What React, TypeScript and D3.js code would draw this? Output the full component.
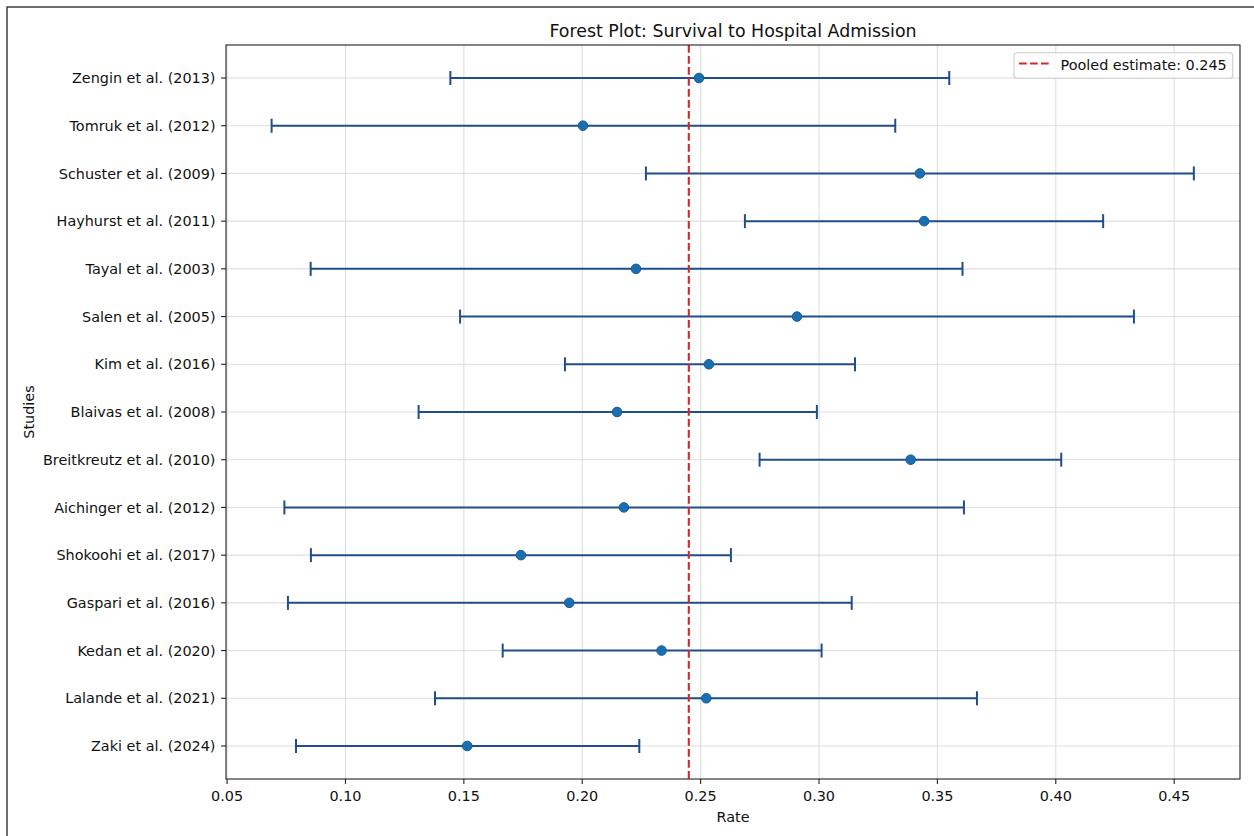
import React, { useEffect, useRef } from "react";
import * as d3 from "d3";

// studies, top to bottom
const studies = [
  "Zengin et al. (2013)",
  "Tomruk et al. (2012)",
  "Schuster et al. (2009)",
  "Hayhurst et al. (2011)",
  "Tayal et al. (2003)",
  "Salen et al. (2005)",
  "Kim et al. (2016)",
  "Blaivas et al. (2008)",
  "Breitkreutz et al. (2010)",
  "Aichinger et al. (2012)",
  "Shokoohi et al. (2017)",
  "Gaspari et al. (2016)",
  "Kedan et al. (2020)",
  "Lalande et al. (2021)",
  "Zaki et al. (2024)",
];

const rates = [0.2493, 0.2003, 0.3426, 0.3444, 0.2227, 0.2907, 0.2535, 0.2147, 0.3387, 0.2176, 0.1741, 0.1945, 0.2335, 0.2524, 0.1514];
const lower = [0.1443, 0.0688, 0.2269, 0.2687, 0.0853, 0.1484, 0.1927, 0.1309, 0.2749, 0.0742, 0.0854, 0.0757, 0.1664, 0.1378, 0.0791];
const upper = [0.355, 0.3322, 0.4583, 0.42, 0.3606, 0.433, 0.3152, 0.2991, 0.4023, 0.3612, 0.2628, 0.3138, 0.3011, 0.3667, 0.2241];

const pooled = 0.245;
const xTicks = [0.05, 0.1, 0.15, 0.2, 0.25, 0.3, 0.35, 0.4, 0.45];

const W = 1254;
const H = 836;
const FONT = "DejaVu Sans, sans-serif";
const FS = 14.4;

export default function App() {
  const ref = useRef<SVGSVGElement>(null);

  useEffect(() => {
    const svg = d3.select(ref.current);
    svg.selectAll("*").remove();

    const left = 226, right = 1240, top = 45, bottom = 779;

    const x = d3.scaleLinear().domain([0.04954, 0.4778]).range([left, right]);
    const y = d3.scalePoint<string>().domain(studies).range([78, 746]);

    // figure frame (runs off the picture on right/bottom)
    svg.append("rect")
      .attr("x", 7).attr("y", 7)
      .attr("width", 1300).attr("height", 900)
      .attr("fill", "white").attr("stroke", "#222").attr("stroke-width", 1.3);

    const g = svg.append("g");

    // grid
    g.selectAll(".gx").data(xTicks).enter().append("line")
      .attr("x1", (d) => x(d)).attr("x2", (d) => x(d))
      .attr("y1", top).attr("y2", bottom)
      .attr("stroke", "#dedede").attr("stroke-width", 1.1);
    g.selectAll(".gy").data(studies).enter().append("line")
      .attr("x1", left).attr("x2", right)
      .attr("y1", (d) => y(d)!).attr("y2", (d) => y(d)!)
      .attr("stroke", "#dedede").attr("stroke-width", 1.1);

    // error bars
    const ecol = "#1f4e8a";
    const rows = studies.map((s, i) => ({ s, r: rates[i], lo: lower[i], hi: upper[i] }));
    const eb = g.selectAll(".eb").data(rows).enter().append("g");
    eb.append("line")
      .attr("x1", (d) => x(d.lo)).attr("x2", (d) => x(d.hi))
      .attr("y1", (d) => y(d.s)!).attr("y2", (d) => y(d.s)!)
      .attr("stroke", ecol).attr("stroke-width", 2);
    eb.append("line")
      .attr("x1", (d) => x(d.lo)).attr("x2", (d) => x(d.lo))
      .attr("y1", (d) => y(d.s)! - 7).attr("y2", (d) => y(d.s)! + 7)
      .attr("stroke", ecol).attr("stroke-width", 2);
    eb.append("line")
      .attr("x1", (d) => x(d.hi)).attr("x2", (d) => x(d.hi))
      .attr("y1", (d) => y(d.s)! - 7).attr("y2", (d) => y(d.s)! + 7)
      .attr("stroke", ecol).attr("stroke-width", 2);

    // pooled line
    g.append("line")
      .attr("x1", x(pooled)).attr("x2", x(pooled))
      .attr("y1", top).attr("y2", bottom)
      .attr("stroke", "#d62728").attr("stroke-width", 2.1)
      .attr("stroke-dasharray", "7.7,3.3");

    // points
    eb.append("circle")
      .attr("cx", (d) => x(d.r)).attr("cy", (d) => y(d.s)!)
      .attr("r", 4.8)
      .attr("fill", "#1a6fb0").attr("stroke", "#1a5a94").attr("stroke-width", 1);

    // spines
    g.append("rect")
      .attr("x", left).attr("y", top)
      .attr("width", right - left).attr("height", bottom - top)
      .attr("fill", "none").attr("stroke", "#222").attr("stroke-width", 1.1);

    // x ticks
    const xt = g.selectAll(".xt").data(xTicks).enter().append("g");
    xt.append("line")
      .attr("x1", (d) => x(d)).attr("x2", (d) => x(d))
      .attr("y1", bottom).attr("y2", bottom + 4.9)
      .attr("stroke", "#222").attr("stroke-width", 1.1);
    xt.append("text")
      .attr("x", (d) => x(d)).attr("y", 801)
      .attr("text-anchor", "middle")
      .attr("font-family", FONT).attr("font-size", FS).attr("fill", "#111")
      .text((d) => d3.format(".2f")(d));

    // y ticks
    const yt = g.selectAll(".yt").data(studies).enter().append("g");
    yt.append("line")
      .attr("x1", left - 4.9).attr("x2", left)
      .attr("y1", (d) => y(d)!).attr("y2", (d) => y(d)!)
      .attr("stroke", "#222").attr("stroke-width", 1.1);
    yt.append("text")
      .attr("x", left - 10.5).attr("y", (d) => y(d)! + 5.2)
      .attr("text-anchor", "end")
      .attr("font-family", FONT).attr("font-size", FS).attr("fill", "#111")
      .text((d) => d);

    // labels
    svg.append("text")
      .attr("x", (left + right) / 2).attr("y", 36.5)
      .attr("text-anchor", "middle")
      .attr("font-family", FONT).attr("font-size", 17.4).attr("fill", "#111")
      .text("Forest Plot: Survival to Hospital Admission");
    svg.append("text")
      .attr("x", (left + right) / 2).attr("y", 821.5)
      .attr("text-anchor", "middle")
      .attr("font-family", FONT).attr("font-size", FS).attr("fill", "#111")
      .text("Rate");
    svg.append("text")
      .attr("transform", `translate(34,${(top + bottom) / 2}) rotate(-90)`)
      .attr("text-anchor", "middle")
      .attr("font-family", FONT).attr("font-size", FS).attr("fill", "#111")
      .text("Studies");

    // legend
    const lg = svg.append("g");
    lg.append("rect")
      .attr("x", 1014).attr("y", 52.7)
      .attr("width", 218.7).attr("height", 25.6)
      .attr("rx", 3).attr("fill", "white").attr("fill-opacity", 0.8)
      .attr("stroke", "#cccccc").attr("stroke-width", 1.1);
    lg.append("line")
      .attr("x1", 1019).attr("x2", 1049)
      .attr("y1", 63.5).attr("y2", 63.5)
      .attr("stroke", "#d62728").attr("stroke-width", 2.1)
      .attr("stroke-dasharray", "7.7,3.3");
    lg.append("text")
      .attr("x", 1060.5).attr("y", 70.2)
      .attr("font-family", FONT).attr("font-size", FS).attr("fill", "#111")
      .text(`Pooled estimate: ${pooled}`);
  }, []);

  return (
    <div style={{ position: "fixed", left: 0, top: 0 }}>
      <svg ref={ref} width={W} height={H} style={{ display: "block", background: "white" }}></svg>
    </div>
  );
}
